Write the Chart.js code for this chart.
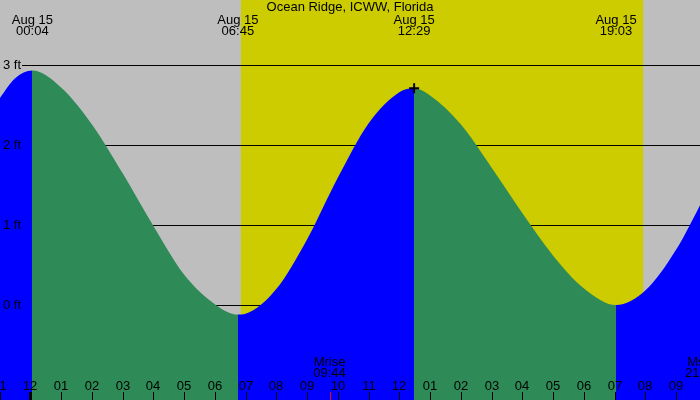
<!DOCTYPE html>
<html>
<head>
<meta charset="utf-8">
<script src="https://cdn.jsdelivr.net/npm/chart.js@4.4.0/dist/chart.umd.min.js"></script>
<style>
  html, body { margin: 0; padding: 0; background: #bebebe; }
  #tide { display: block; }
</style>
</head>
<body>
<canvas id="tide" width="700" height="400"></canvas>
<script>
// tide heights (ft), hours since midnight Aug 15
const tideHours = [-1, -0.5, 0.067, 1, 2, 3, 4, 5, 6, 6.75, 7, 8, 9, 10, 11, 12, 12.483, 13, 14, 15, 16, 17, 18, 19.05, 20, 21, 22];
const tideFeet  = [2.58, 2.83, 2.93, 2.72, 2.26, 1.65, 0.99, 0.38, 0.01, -0.12, -0.11, 0.20, 0.82, 1.59, 2.27, 2.66, 2.71, 2.62, 2.26, 1.72, 1.15, 0.62, 0.21, 0.00, 0.18, 0.69, 1.41];

// highs and lows
const extremeHours = [0.067, 6.75, 12.483, 19.05];
const extremeTimes = ['00:04', '06:45', '12:29', '19:03'];
const extremeDate = 'Aug 15';

// axis ticks
const feetTicks = [0, 1, 2, 3];
const hourTicks = [-1, 0, 1, 2, 3, 4, 5, 6, 7, 8, 9, 10, 11, 12, 13, 14, 15, 16, 17, 18, 19, 20, 21];
const hourLabels = ['11', '12', '01', '02', '03', '04', '05', '06', '07', '08', '09', '10', '11', '12', '01', '02', '03', '04', '05', '06', '07', '08', '09'];

// sun and moon
const sunHours = [6.85, 19.93];
const moonHours = [9.733, 21.82];
const moonNames = ['Mrise', 'Mset'];
const moonTimes = ['09:44', '21:49'];

// current marker
const markerHour = [12.483];
const markerFeet = [2.71];

const TITLE = 'Ocean Ridge, ICWW, Florida';
const RISE = '#0000ff';
const FALL = '#2e8b57';
const FONT = '13px "Liberation Sans", Arial, sans-serif';

function tideFill(context) {
    const chart = context.chart;
    const area = chart.chartArea;
    if (!area) return RISE;
    const x = chart.scales.x;
    const grad = chart.ctx.createLinearGradient(area.left, 0, area.right, 0);
    const w = area.right - area.left;
    let color = RISE;
    grad.addColorStop(0, color);
    extremeHours.forEach(h => {
        const f = Math.min(1, Math.max(0, (x.getPixelForValue(h) - area.left) / w));
        grad.addColorStop(f, color);
        color = color === RISE ? FALL : RISE;
        grad.addColorStop(f, color);
    });
    grad.addColorStop(1, color);
    return grad;
}

const backdrop = {
    id: 'backdrop',
    beforeDraw(chart) {
        const ctx = chart.ctx;
        const x = chart.scales.x;
        ctx.save();
        ctx.fillStyle = '#bebebe';
        ctx.fillRect(0, 0, chart.width, chart.height);
        const x0 = x.getPixelForValue(sunHours[0]);
        const x1 = x.getPixelForValue(sunHours[1]);
        ctx.fillStyle = '#cccc00';
        ctx.fillRect(x0, 0, x1 - x0, chart.height);
        ctx.restore();
    },
    beforeDatasetsDraw(chart) {
        const ctx = chart.ctx;
        const y = chart.scales.y;
        ctx.save();
        ctx.strokeStyle = '#000';
        ctx.lineWidth = 1;
        feetTicks.forEach(v => {
            const py = Math.round(y.getPixelForValue(v)) + 0.5;
            ctx.beginPath();
            ctx.moveTo(22, py);
            ctx.lineTo(chart.width, py);
            ctx.stroke();
        });
        ctx.restore();
    },
    afterDatasetsDraw(chart) {
        const ctx = chart.ctx;
        const x = chart.scales.x;
        const y = chart.scales.y;
        ctx.save();
        ctx.fillStyle = '#000';
        ctx.font = FONT;
        ctx.textBaseline = 'middle';

        // title
        ctx.textAlign = 'center';
        ctx.fillText(TITLE, chart.width / 2, 7);

        // high / low times
        extremeHours.forEach((h, i) => {
            const px = x.getPixelForValue(h);
            ctx.fillText(extremeDate, px, 20);
            ctx.fillText(extremeTimes[i], px, 31);
        });

        // feet labels
        ctx.textAlign = 'left';
        feetTicks.forEach(v => {
            ctx.fillText(v + ' ft', 3, y.getPixelForValue(v));
        });

        // hour ticks
        ctx.textAlign = 'center';
        hourTicks.forEach((h, i) => {
            const px = Math.round(x.getPixelForValue(h));
            ctx.fillText(hourLabels[i], px, 386);
            ctx.fillRect(px - (h === 0 ? 1 : 0), 392, h === 0 ? 3 : 1, 8);
        });

        // moon
        moonHours.forEach((h, i) => {
            const px = x.getPixelForValue(h);
            ctx.fillStyle = '#000';
            ctx.fillText(moonNames[i], px, 362);
            ctx.fillText(moonTimes[i], px, 373);
            ctx.fillStyle = '#ff0000';
            ctx.fillRect(Math.round(px), 392, 1, 8);
        });
        ctx.restore();
    }
};

new Chart(document.getElementById('tide'), {
    type: 'line',
    data: {
        datasets: [{
            data: tideHours.map((h, i) => ({ x: h, y: tideFeet[i] })),
            fill: 'start',
            backgroundColor: tideFill,
            borderWidth: 0,
            pointRadius: 0,
            cubicInterpolationMode: 'monotone',
            order: 2
        }, {
            data: markerHour.map((h, i) => ({ x: h, y: markerFeet[i] })),
            showLine: false,
            pointStyle: 'cross',
            pointRadius: 5,
            borderColor: '#000',
            borderWidth: 2,
            order: 1
        }]
    },
    options: {
        responsive: false,
        devicePixelRatio: 1,
        animation: false,
        layout: { padding: 0, autoPadding: false },
        scales: {
            x: { type: 'linear', min: -0.985, max: 21.78, display: false },
            y: { min: -1.1875, max: 3.8125, display: false }
        },
        plugins: {
            legend: { display: false },
            tooltip: { enabled: false }
        }
    },
    plugins: [backdrop]
});
</script>
</body>
</html>
